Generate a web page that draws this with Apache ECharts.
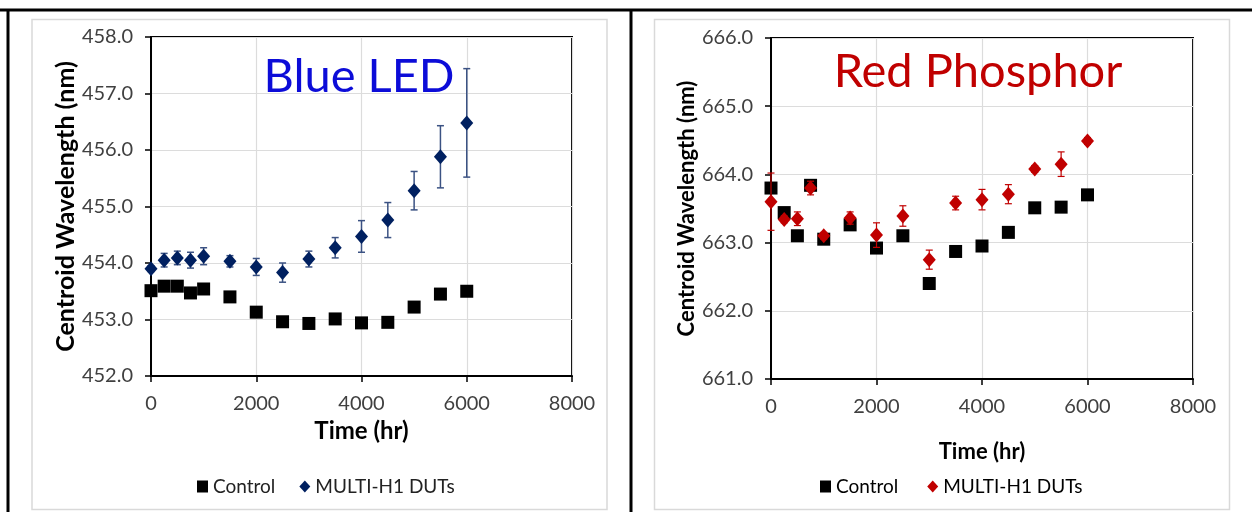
<!DOCTYPE html>
<html><head><meta charset="utf-8">
<script src="https://cdn.jsdelivr.net/npm/echarts@6/dist/echarts.min.js"></script>
<style>html,body{margin:0;padding:0;background:#fff}#c{width:1252px;height:512px}</style>
</head><body><div id="c"></div>
<script>
const times = [0,250,500,750,1000,1500,2000,2500,3000,3500,4000,4500,5000,5500,6000];
const blueControl = [453.51,453.59,453.59,453.47,453.54,453.40,453.13,452.96,452.93,453.01,452.94,452.95,453.22,453.45,453.50];
const blueDUT = [453.90,454.05,454.09,454.05,454.12,454.03,453.93,453.83,454.07,454.27,454.47,454.76,455.28,455.88,456.48];
const blueDUTErr = [0.05,0.12,0.12,0.14,0.15,0.10,0.15,0.17,0.14,0.18,0.28,0.31,0.34,0.55,0.96];
const redControl = [663.80,663.44,663.10,663.84,663.05,663.26,662.92,663.10,662.40,662.87,662.95,663.15,663.51,663.52,663.70];
const redDUT = [663.60,663.34,663.35,663.80,663.10,663.36,663.11,663.39,662.75,663.58,663.63,663.71,664.08,664.15,664.49];
const redDUTErr = [0.42,0.05,0.10,0.10,0.05,0.09,0.18,0.15,0.14,0.10,0.15,0.14,0.05,0.18,0.05];
const xTicks = [0,2000,4000,6000,8000];
const blueYTicks = [452,453,454,455,456,457,458];
const redYTicks = [661,662,663,664,665,666];

const FONT = 'Lato';
const chart = echarts.init(document.getElementById('c'), null, {renderer:'canvas'});

function pairs(xs, ys){ return xs.map((x,i)=>[x, ys[i]]); }
function errData(xs, ys, es){ return xs.map((x,i)=>[x, ys[i]-es[i], ys[i]+es[i]]); }
function errSeries(idx, data, color, width){
  return {
    type:'custom', xAxisIndex:idx, yAxisIndex:idx, z:3, silent:true,
    data: data,
    encode:{x:0, y:[1,2]},
    renderItem: function(params, api){
      const x = api.value(0);
      const lo = api.coord([x, api.value(1)]);
      const hi = api.coord([x, api.value(2)]);
      const cap = 3.5;
      const st = {stroke: color, lineWidth: width};
      return {type:'group', children:[
        {type:'line', shape:{x1:lo[0], y1:lo[1], x2:hi[0], y2:hi[1]}, style:st},
        {type:'line', shape:{x1:lo[0]-cap, y1:lo[1], x2:lo[0]+cap, y2:lo[1]}, style:st},
        {type:'line', shape:{x1:hi[0]-cap, y1:hi[1], x2:hi[0]+cap, y2:hi[1]}, style:st}
      ]};
    }
  };
}
function xAx(idx, nameGap, nameSize){
  return {
    type:'value', gridIndex:idx, min:xTicks[0], max:xTicks[xTicks.length-1], interval:xTicks[1]-xTicks[0],
    name:'Time (hr)', nameLocation:'middle', nameGap:nameGap,
    nameTextStyle:{fontFamily:FONT, fontWeight:'bold', fontSize:nameSize, color:'#000'},
    axisLine:{show:true, onZero:false, lineStyle:{color:'#000', width:2}},
    axisTick:{show:true, length:6, lineStyle:{color:'#000', width:1.5}},
    axisLabel:{fontFamily:FONT, fontSize:20, color:'#404040', margin:18, formatter:v=>String(v)},
    splitLine:{show:true, lineStyle:{color:'#dcdcdc', width:1.2}}
  };
}
function yAx(idx, ticks, nameGap, nameSize){
  return {
    type:'value', gridIndex:idx, min:ticks[0], max:ticks[ticks.length-1], interval:1,
    name:'Centroid Wavelength (nm)', nameLocation:'middle', nameGap:nameGap, nameRotate:90,
    nameTextStyle:{fontFamily:FONT, fontWeight:'bold', fontSize:nameSize, color:'#000'},
    axisLine:{show:true, lineStyle:{color:'#000', width:2}},
    axisTick:{show:true, length:6, lineStyle:{color:'#000', width:1.5}},
    axisLabel:{fontFamily:FONT, fontSize:20, color:'#404040', margin:18, formatter:v=>v.toFixed(1)},
    splitLine:{show:true, lineStyle:{color:'#dcdcdc', width:1.2}}
  };
}

chart.setOption({
  animation:false,
  backgroundColor:'#fff',
  title:[
    {text:'Blue LED', left:354, top:48, textAlign:'center',
     textStyle:{fontFamily:FONT, fontSize:47, fontWeight:'normal', color:'#0c0cd8'}},
    {text:'Red Phosphor', left:973, top:43, textAlign:'center',
     textStyle:{fontFamily:FONT, fontSize:47, fontWeight:'normal', color:'#c00000'}}
  ],
  graphic:[
    {type:'rect', shape:{x:32, y:19.5, width:575, height:490}, style:{fill:'none', stroke:'#d9d9d9', lineWidth:1.5}, z:-1},
    {type:'rect', shape:{x:654.5, y:19.5, width:575, height:490}, style:{fill:'none', stroke:'#d9d9d9', lineWidth:1.5}, z:-1},
    {type:'line', shape:{x1:0, y1:10, x2:1252, y2:10}, style:{stroke:'#000', lineWidth:3}},
    {type:'line', shape:{x1:8, y1:10, x2:8, y2:512}, style:{stroke:'#000', lineWidth:3}},
    {type:'line', shape:{x1:631, y1:10, x2:631, y2:512}, style:{stroke:'#000', lineWidth:3}}
  ],
  grid:[
    {left:151, top:37, width:421, height:339, show:true, borderColor:'#000', borderWidth:2, backgroundColor:'transparent'},
    {left:771, top:38, width:422, height:341, show:true, borderColor:'#000', borderWidth:2, backgroundColor:'transparent'}
  ],
  legend:[
    {left:192, top:472, itemGap:24, itemWidth:11, itemHeight:12,
     textStyle:{fontFamily:FONT, fontSize:19, color:'#222'},
     data:[{name:'Control', icon:'rect'}, {name:'MULTI-H1 DUTs', icon:'diamond'}], selectedMode:false},
    {left:815, top:472, itemGap:24, itemWidth:11, itemHeight:12,
     textStyle:{fontFamily:FONT, fontSize:19, color:'#000'},
     data:[{name:'Control ', icon:'rect'}, {name:'MULTI-H1 DUTs ', icon:'diamond'}], selectedMode:false}
  ],
  xAxis:[xAx(0, 42, 24), xAx(1, 62, 22)],
  yAxis:[yAx(0, blueYTicks, 70, 25), yAx(1, redYTicks, 71, 22)],
  series:[
    {name:'Control', type:'scatter', xAxisIndex:0, yAxisIndex:0, symbol:'rect', symbolSize:13, z:2,
     itemStyle:{color:'#000', opacity:1}, data:pairs(times, blueControl)},
    errSeries(0, errData(times, blueDUT, blueDUTErr), '#3b5283', 1.5),
    {name:'MULTI-H1 DUTs', type:'scatter', xAxisIndex:0, yAxisIndex:0, symbol:'diamond', symbolSize:[13,15], z:4,
     itemStyle:{color:'#002060', opacity:1}, data:pairs(times, blueDUT)},
    {name:'Control ', type:'scatter', xAxisIndex:1, yAxisIndex:1, symbol:'rect', symbolSize:13, z:2,
     itemStyle:{color:'#000', opacity:1}, data:pairs(times, redControl)},
    errSeries(1, errData(times, redDUT, redDUTErr), '#c00000', 1.2),
    {name:'MULTI-H1 DUTs ', type:'scatter', xAxisIndex:1, yAxisIndex:1, symbol:'diamond', symbolSize:[13,15], z:4,
     itemStyle:{color:'#c00000', opacity:1}, data:pairs(times, redDUT)}
  ]
});
</script></body></html>
